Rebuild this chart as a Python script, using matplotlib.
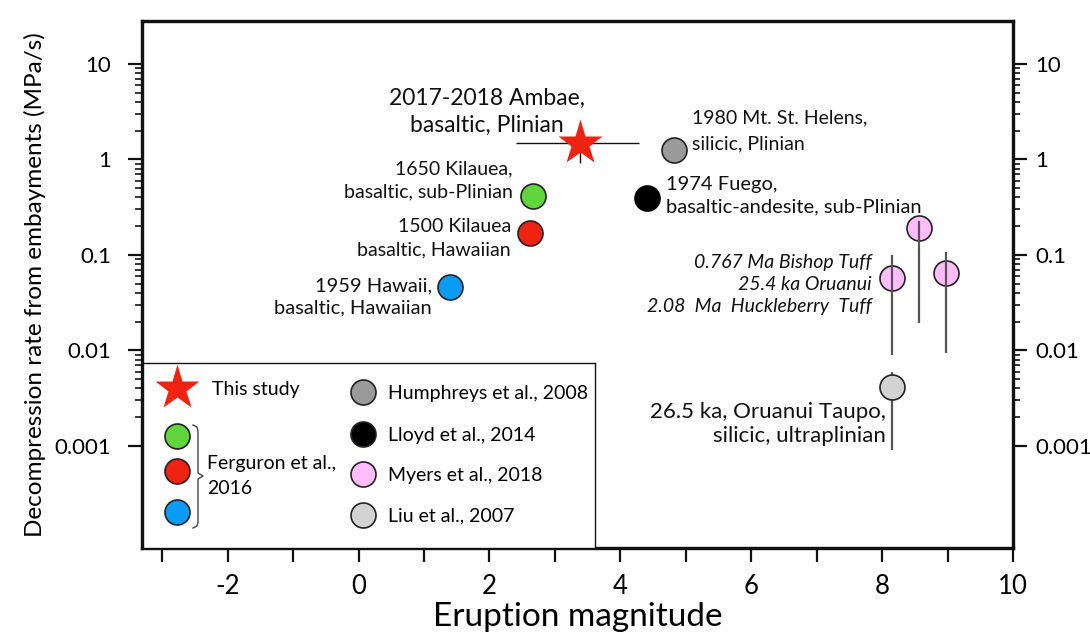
import matplotlib
matplotlib.use("Agg")
import matplotlib.pyplot as plt
from matplotlib.ticker import FixedLocator, FixedFormatter

plt.rcParams['font.family'] = ['Lato', 'DejaVu Sans']

# === data ===
ambae_x = 3.38
ambae_y = 1.49
ambae_xerr = [[0.98], [0.90]]
ambae_yerr = [[0.57], [0.9]]

ferg_x = [2.66, 2.62, 1.40]
ferg_y = [0.41, 0.169, 0.0466]
ferg_colors = ['#5fd43b', '#ee2312', '#0a9cf5']

msh_x, msh_y = 4.82, 1.26
fuego_x, fuego_y = 4.40, 0.39

myers_x = [8.15, 8.57, 8.98]
myers_y = [0.0574, 0.192, 0.0643]
myers_lo = [0.00897, 0.0194, 0.00948]
myers_hi = [0.100, 0.225, 0.108]

liu_x, liu_y = 8.15, 0.00415
liu_lo, liu_hi = 0.00091, 0.00596

xticks = list(range(-3, 11))
yticks = [0.001, 0.01, 0.1, 1, 10]
ytick_labels = ['0.001', '0.01', '0.1', '1', '10']
yminor = [k * 10.0 ** e for e in range(-3, 1) for k in range(2, 10)]

# === figure ===
fig = plt.figure(figsize=(10.9, 6.44), dpi=100)
ax = fig.add_axes([142 / 1090, 1 - 548 / 644, 871 / 1090, 527 / 644])
ax.set_yscale('log')
ax.set_xlim(-3.31, 10.0)
ax.set_ylim(10 ** -4.07, 10 ** 1.45)

ms = 18
ec = '#222222'

# Ambae
ax.errorbar(ambae_x, ambae_y, xerr=ambae_xerr, yerr=ambae_yerr, fmt='none',
            ecolor='#111111', elinewidth=1.0, capsize=0, zorder=2)
ax.plot(ambae_x, ambae_y, marker='*', ms=34, color='#ee2312', mec='none', zorder=3, ls='none')

# Ferguson
for x, y, c in zip(ferg_x, ferg_y, ferg_colors):
    ax.plot(x, y, 'o', ms=ms, mfc=c, mec=ec, mew=1.2, zorder=3)

ax.plot(msh_x, msh_y, 'o', ms=ms, mfc='#9a9a9a', mec=ec, mew=1.2, zorder=3)
ax.plot(fuego_x, fuego_y, 'o', ms=ms, mfc='#000000', mec='#000000', mew=1.2, zorder=3)

# Myers
for x, y, lo, hi in zip(myers_x, myers_y, myers_lo, myers_hi):
    ax.plot(x, y, 'o', ms=ms, mfc='#ffbdfb', mec=ec, mew=1.2, zorder=3)
    ax.vlines(x, lo, hi, color='#555555', lw=1.6, zorder=4)

# Liu
ax.plot(liu_x, liu_y, 'o', ms=ms, mfc='#d3d3d3', mec=ec, mew=1.2, zorder=3)
ax.vlines(liu_x, liu_lo, liu_hi, color='#555555', lw=1.6, zorder=2)

# annotations
kw = dict(textcoords='offset pixels', va='center', color='#111111')
ax.annotate('2017-2018 Ambae,\nbasaltic, Plinian', (ambae_x, ambae_y), xytext=(-93, 31),
            ha='center', fontsize=16.5, linespacing=1.4, **kw)
ax.annotate('1650 Kilauea,\nbasaltic, sub-Plinian', (ferg_x[0], ferg_y[0]), xytext=(-20, 16),
            ha='right', fontsize=14, linespacing=1.42, **kw)
ax.annotate('1500 Kilauea\nbasaltic, Hawaiian', (ferg_x[1], ferg_y[1]), xytext=(-19, -5),
            ha='right', fontsize=14, linespacing=1.42, **kw)
ax.annotate('1959 Hawaii,\nbasaltic, Hawaiian', (ferg_x[2], ferg_y[2]), xytext=(-18, -10),
            ha='right', fontsize=14.5, linespacing=1.35, **kw)
ax.annotate('1980 Mt. St. Helens,\nsilicic, Plinian', (msh_x, msh_y), xytext=(18, 19),
            ha='left', fontsize=14, linespacing=1.6, **kw)
ax.annotate('1974 Fuego,\nbasaltic-andesite, sub-Plinian', (fuego_x, fuego_y), xytext=(19, 3),
            ha='left', fontsize=14.5, linespacing=1.42, **kw)
ax.annotate('0.767 Ma Bishop Tuff\n25.4 ka Oruanui\n2.08  Ma  Huckleberry  Tuff', (myers_x[0], myers_y[0]),
            xytext=(-20, -7), ha='right', style='italic', fontsize=14, linespacing=1.36, **kw)
ax.annotate('26.5 ka, Oruanui Taupo,\nsilicic, ultraplinian', (liu_x, liu_y), xytext=(-6, -37),
            ha='right', fontsize=16, linespacing=1.24, **kw)

# axes styling
for s in ax.spines.values():
    s.set_linewidth(2.3)
    s.set_color('#111111')
ax.xaxis.set_major_locator(FixedLocator(xticks))
ax.xaxis.set_major_formatter(FixedFormatter([str(t) if t % 2 == 0 else '' for t in xticks]))
ax.tick_params(axis='x', which='major', direction='out', length=10, width=1.6, labelsize=18.5,
               color='#111111', pad=9, top=False)
ax.set_xlabel('Eruption magnitude', fontsize=24, labelpad=2)
ax.set_ylabel('Decompression rate from embayments (MPa/s)', fontsize=17.5, labelpad=6)

# right axis is a copy of the left one
ax2 = ax.twinx()
ax2.set_yscale('log')
ax2.set_ylim(ax.get_ylim())
for a, pad in [(ax, 12), (ax2, 6)]:
    a.yaxis.set_major_locator(FixedLocator(yticks))
    a.yaxis.set_major_formatter(FixedFormatter(ytick_labels))
    a.yaxis.set_minor_locator(FixedLocator(yminor))
    a.yaxis.set_minor_formatter(FixedFormatter([]))
    a.tick_params(axis='y', which='major', direction='out', length=10, width=1.6, labelsize=16,
                  color='#111111', pad=pad)
    a.tick_params(axis='y', which='minor', direction='out', length=5, width=1.2, color='#111111')
for s in ax2.spines.values():
    s.set_linewidth(2.3)
    s.set_color('#111111')

# legend box
lg = fig.add_axes([143 / 1090, 1 - 548 / 644, 452 / 1090, 185 / 644])
lg.set_xlim(0, 452)
lg.set_ylim(185, 0)
lg.set_xticks([])
lg.set_yticks([])
for s in lg.spines.values():
    s.set_linewidth(1.0)
    s.set_color('#111111')
lfs = 14
lg.plot(34, 25, marker='*', ms=34, color='#ee2312', mec='none')
lg.text(69, 27, 'This study', fontsize=lfs, va='center')
for y, c in zip([73, 108, 149], ferg_colors):
    lg.plot(34, y, 'o', ms=ms, mfc=c, mec=ec, mew=1.2)
brace_x = [50, 54, 55, 55, 60, 55, 55, 54, 50]
brace_y = [62, 64, 68, 110, 113, 116, 159, 163, 165]
lg.plot(brace_x, brace_y, color='#444444', lw=1.0)
lg.text(64, 113, 'Ferguron et al.,\n2016', fontsize=lfs, va='center', linespacing=1.5)
right_fc = ['#9a9a9a', '#000000', '#ffbdfb', '#d3d3d3']
right_lab = ['Humphreys et al., 2008', 'Lloyd et al., 2014', 'Myers et al., 2018', 'Liu et al., 2007']
for y, c, t in zip([29, 71, 111, 152], right_fc, right_lab):
    lg.plot(220, y, 'o', ms=ms, mfc=c, mec=ec, mew=1.2)
    lg.text(245, y + 1, t, fontsize=lfs, va='center')

fig.savefig('out.png', dpi=100)
